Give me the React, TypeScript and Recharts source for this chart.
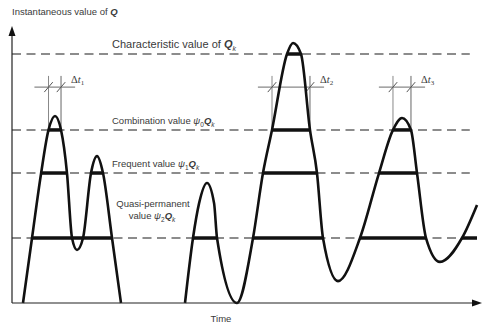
import {
  ComposedChart,
  Line,
  XAxis,
  YAxis,
  ReferenceLine,
  ReferenceDot,
  Customized,
} from "recharts";

const SANS = "'Liberation Sans', Arial, sans-serif";
const SERIF = "'Liberation Serif', 'Times New Roman', serif";
const INK = "#111";
const TEXT = "#3a3a3a";

// time runs 0..100, Q is given as a fraction of Qk
const T_MAX = 100;
const Q_MAX = 1.1245;

const pulseATime = [2.34, 4.26, 6.17, 7.77, 9.15, 10.43, 11.7, 12.77, 13.83, 15.11, 16.81, 18.09, 19.36, 21.28, 23.19];
const pulseAValue = [0, 0.261, 0.518, 0.695, 0.751, 0.695, 0.522, 0.261, 0.213, 0.261, 0.522, 0.59, 0.522, 0.261, 0];

const pulseBTime = [
  36.81, 38.51, 39.8, 41.49, 43.0, 43.62, 47.87, 51.28, 53.4, 55.32, 58.51, 59.79, 61.49, 63.4, 64.89, 66.17,
  69.36, 74.04, 78.09, 81.06, 82.98, 84.89, 86.17, 88.09, 91.06, 95.74, 98.94,
];
const pulseBValue = [
  0, 0.261, 0.4, 0.482, 0.4, 0.261, 0, 0.261, 0.522, 0.695, 1.0, 1.044, 1.0, 0.695, 0.522, 0.261,
  0.088, 0.261, 0.522, 0.695, 0.743, 0.695, 0.522, 0.261, 0.165, 0.261, 0.394,
];

// representative values: Qk, psi0 Qk, psi1 Qk, psi2 Qk
const levelValues = [1.0, 0.695, 0.522, 0.261];

// time intervals during which each level is exceeded
const charSpans = [[58.51, 61.49]];
const combSpans = [[7.77, 10.43], [55.32, 63.4], [81.06, 84.89]];
const freqSpans = [[6.17, 11.7], [16.81, 19.36], [53.4, 64.89], [78.09, 86.17]];
const quasiSpans = [[4.26, 21.28], [38.51, 43.62], [51.28, 66.17], [74.04, 88.09], [95.74, 98.94]];

const pulseA = pulseATime.map((t, i) => ({ t, q: pulseAValue[i] }));
const pulseB = pulseBTime.map((t, i) => ({ t, q: pulseBValue[i] }));

const spanRows = [
  { level: levelValues[0], spans: charSpans },
  { level: levelValues[1], spans: combSpans },
  { level: levelValues[2], spans: freqSpans },
  { level: levelValues[3], spans: quasiSpans },
];

const DT_TOP = 0.912;
const DT_BAR = 0.867;
const DT_EXT = 3;

function DtLabel(props: any) {
  const { viewBox, n } = props;
  if (!viewBox) return null;
  return (
    <text x={viewBox.x + 10} y={viewBox.y + 7} fontFamily={SERIF} fontSize={10.5} fill={TEXT}>
      Δ<tspan fontStyle="italic">t</tspan>
      <tspan fontSize={7} dy={2}>{n}</tspan>
    </text>
  );
}

function TextLayer() {
  return (
    <g fontFamily={SANS} fill={TEXT}>
      <text x={12} y={15} fontSize={9.5}>
        Instantaneous value of <tspan fontStyle="italic" fontWeight="bold">Q</tspan>
      </text>
      <text x={112} y={48} fontSize={11}>
        Characteristic value of <tspan fontStyle="italic" fontWeight="bold">Q</tspan>
        <tspan fontSize={7} dy={2.5} fontStyle="italic">k</tspan>
      </text>
      <text x={112} y={124} fontSize={9.5}>
        Combination value <tspan fontStyle="italic">ψ</tspan>
        <tspan fontSize={6.5} dy={2.5}>0</tspan>
        <tspan fontStyle="italic" fontWeight="bold" dy={-2.5}>Q</tspan>
        <tspan fontSize={6.5} dy={2.5} fontStyle="italic">k</tspan>
      </text>
      <text x={112} y={167} fontSize={9.5}>
        Frequent value <tspan fontStyle="italic">ψ</tspan>
        <tspan fontSize={6.5} dy={2.5}>1</tspan>
        <tspan fontStyle="italic" fontWeight="bold" dy={-2.5}>Q</tspan>
        <tspan fontSize={6.5} dy={2.5} fontStyle="italic">k</tspan>
      </text>
      <text x={153} y={207} fontSize={9.5} textAnchor="middle">
        Quasi-permanent
      </text>
      <text x={152} y={219} fontSize={9.5} textAnchor="middle">
        value <tspan fontStyle="italic">ψ</tspan>
        <tspan fontSize={6.5} dy={2.5}>2</tspan>
        <tspan fontStyle="italic" fontWeight="bold" dy={-2.5}>Q</tspan>
        <tspan fontSize={6.5} dy={2.5} fontStyle="italic">k</tspan>
      </text>
      <text x={221} y={322} fontSize={9.5} textAnchor="middle">
        Time
      </text>
    </g>
  );
}

const upArrow = (p: any) => (
  <polygon points={`${p.cx},${p.cy} ${p.cx - 3.5},${p.cy + 10} ${p.cx + 3.5},${p.cy + 10}`} fill={INK} />
);
const rightArrow = (p: any) => (
  <polygon points={`${p.cx},${p.cy} ${p.cx - 10},${p.cy - 3.5} ${p.cx - 10},${p.cy + 3.5}`} fill={INK} />
);

export default function App() {
  return (
    <div style={{ position: "absolute", left: 0, top: 0, background: "#fff" }}>
      <ComposedChart
        width={483}
        height={327}
        margin={{ top: 23, right: 1, bottom: 24, left: 12 }}
      >
        <XAxis type="number" dataKey="t" domain={[0, T_MAX]} hide />
        <YAxis type="number" dataKey="q" domain={[0, Q_MAX]} hide />

        {levelValues.map((v, i) => (
          <ReferenceLine
            key={"lvl" + i}
            segment={[{ x: 0, y: v }, { x: i === 3 ? 98.9 : 97.4, y: v }]}
            stroke="#1a1a1a"
            strokeWidth={1.1}
            strokeDasharray="9 5.5"
          />
        ))}

        {/* delta t windows around the combination-value exceedances */}
        {combSpans.map(([a, b], i) => [
          <ReferenceLine key={"dl" + i} segment={[{ x: a, y: levelValues[1] }, { x: a, y: DT_TOP }]} stroke="#888" strokeWidth={1} />,
          <ReferenceLine
            key={"dr" + i}
            segment={[{ x: b, y: levelValues[1] }, { x: b, y: DT_TOP }]}
            stroke="#666"
            strokeWidth={1}
            label={<DtLabel n={i + 1} />}
          />,
          <ReferenceLine key={"dh" + i} segment={[{ x: a - DT_EXT, y: DT_BAR }, { x: b + DT_EXT, y: DT_BAR }]} stroke="#888" strokeWidth={1.2} />,
          <ReferenceLine key={"ta" + i} segment={[{ x: a - 0.9, y: DT_BAR - 0.02 }, { x: a + 0.9, y: DT_BAR + 0.02 }]} stroke="#555" strokeWidth={1} />,
          <ReferenceLine key={"tb" + i} segment={[{ x: b - 0.9, y: DT_BAR - 0.02 }, { x: b + 0.9, y: DT_BAR + 0.02 }]} stroke="#555" strokeWidth={1} />,
        ])}

        {spanRows.map((row, r) =>
          row.spans.map(([a, b], i) => (
            <ReferenceLine
              key={"sp" + r + "-" + i}
              segment={[{ x: a, y: row.level }, { x: b, y: row.level }]}
              stroke={INK}
              strokeWidth={3.5}
            />
          ))
        )}

        <Line data={pulseA} dataKey="q" type="monotone" stroke={INK} strokeWidth={2.6} dot={false} isAnimationActive={false} />
        <Line data={pulseB} dataKey="q" type="monotone" stroke={INK} strokeWidth={2.6} dot={false} isAnimationActive={false} />

        {/* axes */}
        <ReferenceLine segment={[{ x: 0, y: 0 }, { x: 0, y: 1.08 }]} stroke="#222" strokeWidth={1.2} />
        <ReferenceLine segment={[{ x: 0, y: 0 }, { x: 98, y: 0 }]} stroke="#222" strokeWidth={1.2} />
        <ReferenceDot x={0} y={1.112} shape={upArrow} />
        <ReferenceDot x={T_MAX} y={0} shape={rightArrow} />

        <Customized component={<TextLayer />} />
      </ComposedChart>
    </div>
  );
}
